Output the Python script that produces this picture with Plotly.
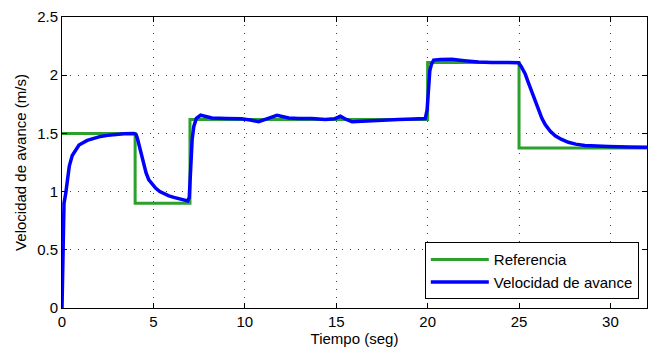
import plotly.graph_objects as go

# Reference speed command (step changes), held until the next time stamp
ref_t = [0, 4, 7, 20, 25, 32]
ref_v = [1.5, 0.9, 1.62, 2.11, 1.375, 1.375]

# Measured forward speed
vel_t = [0, 0.04, 0.11, 0.2, 0.29, 0.4, 0.56, 0.75, 0.93, 1.15, 1.38, 1.7, 2.11, 2.5, 2.84, 3.4, 3.93,
         4.05, 4.12, 4.21, 4.35, 4.48, 4.6, 4.75, 4.93, 5.12, 5.35, 5.57, 5.85, 6.12, 6.5, 6.88,
         6.96, 7.03, 7.12, 7.21, 7.35, 7.58,
         8.2, 9.0, 9.8, 10.3, 10.76, 11.2, 11.76, 12.4, 12.95, 13.67, 14.4, 14.9,
         15.23, 15.55, 15.87, 16.4, 16.94, 17.6, 18.4, 19.2, 19.87,
         19.97, 20.05, 20.12, 20.2, 20.33, 20.7, 21.33, 22.0, 22.79, 23.5, 24.04, 24.5, 24.97,
         25.1, 25.2, 25.34, 25.5, 25.7, 25.9, 26.07, 26.25, 26.43, 26.7, 26.98, 27.3, 27.7,
         28.1, 28.6, 29.2, 29.9, 31.0, 32.0]
vel_v = [0, 0.5, 0.9, 0.98, 1.12, 1.22, 1.31, 1.36, 1.40, 1.42, 1.44, 1.455, 1.474, 1.483, 1.49, 1.497, 1.50,
         1.49, 1.46, 1.40, 1.32, 1.23, 1.16, 1.10, 1.06, 1.03, 1.00, 0.98, 0.963, 0.95, 0.935, 0.92,
         0.95, 1.26, 1.45, 1.56, 1.63, 1.656,
         1.633, 1.628, 1.625, 1.615, 1.60, 1.625, 1.655, 1.633, 1.627, 1.627, 1.62, 1.625,
         1.647, 1.62, 1.60, 1.605, 1.61, 1.615, 1.62, 1.623, 1.627,
         1.70, 1.94, 2.04, 2.09, 2.13, 2.135, 2.136, 2.125, 2.113, 2.11, 2.108, 2.11, 2.108,
         2.08, 2.05, 2.01, 1.94, 1.857, 1.77, 1.69, 1.63, 1.577, 1.52, 1.48, 1.45, 1.424,
         1.408, 1.396, 1.39, 1.388, 1.383, 1.38]

x_ticks = [0, 5, 10, 15, 20, 25, 30]
y_ticks = [0, 0.5, 1, 1.5, 2, 2.5]

fig = go.Figure()
fig.add_trace(go.Scatter(
    x=ref_t, y=ref_v, mode="lines", name="Referencia",
    line=dict(color="#2ca02c", width=3, shape="hv"),
))
fig.add_trace(go.Scatter(
    x=vel_t, y=vel_v, mode="lines", name="Velocidad de avance",
    line=dict(color="#0000ff", width=3.5),
))

font = "Liberation Sans, Arial, Helvetica, sans-serif"
axis_common = dict(
    showline=True, linecolor="black", linewidth=1, mirror="ticks",
    ticks="inside", ticklen=5, tickcolor="black",
    showgrid=True, gridcolor="#444444", griddash="1px,7px", gridwidth=1,
    zeroline=False, tickfont=dict(family=font, size=15, color="black"),
)

fig.update_layout(
    width=656, height=351,
    margin=dict(l=62, r=8, t=12, b=40),
    paper_bgcolor="white", plot_bgcolor="white",
    font=dict(family=font, color="black"),
    showlegend=True,
    legend=dict(
        x=0.986, y=0.03, xanchor="right", yanchor="bottom",
        bgcolor="white", bordercolor="black", borderwidth=1,
        font=dict(family=font, size=15, color="black"),
        tracegroupgap=0, itemwidth=58,
    ),
    xaxis=dict(
        range=[0, 32], tickvals=x_ticks,
        title=dict(text="Tiempo (seg)", font=dict(family=font, size=15), standoff=2),
        **axis_common,
    ),
    yaxis=dict(
        range=[0, 2.5], tickvals=y_ticks,
        title=dict(text="Velocidad de avance (m/s)", font=dict(family=font, size=15), standoff=6),
        **axis_common,
    ),
)

fig.write_html("out.html")
